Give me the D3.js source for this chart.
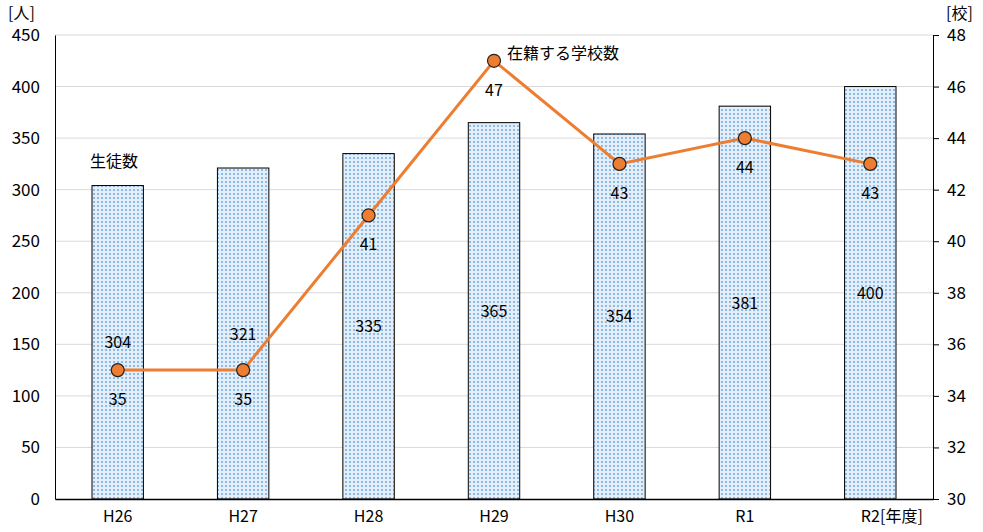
<!DOCTYPE html>
<html>
<head>
<meta charset="utf-8">
<script src="https://cdn.jsdelivr.net/npm/d3@7"></script>
<style>
body { margin: 0; background: #fff; }
text { font-family: "Noto Sans CJK JP", "Noto Sans", sans-serif; fill: #000; }
</style>
</head>
<body>
<svg width="983" height="532"></svg>
<script>
// data
var years = ['H26', 'H27', 'H28', 'H29', 'H30', 'R1', 'R2'];
var students = [304, 321, 335, 365, 354, 381, 400];
var schools = [35, 35, 41, 47, 43, 44, 43];
var leftTicks = [0, 50, 100, 150, 200, 250, 300, 350, 400, 450];
var rightTicks = [30, 32, 34, 36, 38, 40, 42, 44, 46, 48];

var svg = d3.select('svg');
var plotLeft = 55, plotRight = 933, plotTop = 35, plotBottom = 499;

// dotted fill for the bars
var defs = svg.append('defs');
var pat = defs.append('pattern')
  .attr('id', 'dots')
  .attr('patternUnits', 'userSpaceOnUse')
  .attr('width', 4).attr('height', 4);
pat.append('rect').attr('width', 4).attr('height', 4).attr('fill', '#e4eef9');
pat.append('rect').attr('x', 1).attr('y', 1).attr('width', 2).attr('height', 2).attr('fill', '#8dbbe8');

var x = d3.scaleBand().domain(years).range([plotLeft, plotRight]).paddingInner(0.59).paddingOuter(0.295);
var yL = d3.scaleLinear().domain([0, 450]).range([plotBottom, plotTop]);
var yR = d3.scaleLinear().domain([30, 48]).range([plotBottom, plotTop]);

// grid
svg.append('g')
  .selectAll('line')
  .data(leftTicks.slice(1))
  .enter().append('line')
  .attr('x1', plotLeft).attr('x2', plotRight)
  .attr('y1', function(d) { return yL(d); })
  .attr('y2', function(d) { return yL(d); })
  .attr('stroke', '#d9d9d9').attr('stroke-width', 1);

// bars
svg.append('g')
  .selectAll('rect')
  .data(students)
  .enter().append('rect')
  .attr('x', function(d, i) { return x(years[i]); })
  .attr('y', function(d) { return yL(d); })
  .attr('width', x.bandwidth())
  .attr('height', function(d) { return plotBottom - yL(d); })
  .attr('fill', 'url(#dots)')
  .attr('stroke', '#000').attr('stroke-width', 1);

svg.append('g')
  .selectAll('text')
  .data(students)
  .enter().append('text')
  .attr('x', function(d, i) { return x(years[i]) + x.bandwidth() / 2; })
  .attr('y', function(d) { return (yL(d) + plotBottom) / 2 + 6; })
  .attr('text-anchor', 'middle')
  .attr('font-size', 16)
  .text(function(d) { return d; });

// left axis
var axL = svg.append('g')
  .attr('transform', 'translate(' + plotLeft + ',0)')
  .call(d3.axisLeft(yL).tickValues(leftTicks).tickSize(0).tickPadding(15));
axL.select('.domain').attr('stroke', '#000');
axL.selectAll('text').attr('font-size', 17).attr('font-family', '"Noto Sans CJK JP", sans-serif');

// right axis
var axR = svg.append('g')
  .attr('transform', 'translate(' + plotRight + ',0)')
  .call(d3.axisRight(yR).tickValues(rightTicks).tickSize(6).tickSizeOuter(0).tickPadding(8));
axR.select('.domain').attr('stroke', '#000');
axR.selectAll('line').attr('stroke', '#000');
axR.selectAll('text').attr('font-size', 17).attr('font-family', '"Noto Sans CJK JP", sans-serif');

// bottom axis
var axB = svg.append('g')
  .attr('transform', 'translate(0,' + plotBottom + ')')
  .call(d3.axisBottom(x).tickSize(0).tickPadding(12));
axB.select('.domain').attr('stroke', '#000').attr('stroke-width', 1.5);
axB.selectAll('text').attr('font-size', 16).attr('font-family', '"Noto Sans CJK JP", sans-serif');

// school line
var cx = function(d, i) { return x(years[i]) + x.bandwidth() / 2; };
svg.append('path')
  .datum(schools)
  .attr('fill', 'none')
  .attr('stroke', '#ed7d31')
  .attr('stroke-width', 3)
  .attr('d', d3.line().x(cx).y(function(d) { return yR(d); }));

svg.append('g')
  .selectAll('circle')
  .data(schools)
  .enter().append('circle')
  .attr('cx', cx)
  .attr('cy', function(d) { return yR(d); })
  .attr('r', 6.5)
  .attr('fill', '#ed7d31')
  .attr('stroke', '#222').attr('stroke-width', 1.2);

svg.append('g')
  .selectAll('text')
  .data(schools)
  .enter().append('text')
  .attr('x', cx)
  .attr('y', function(d) { return yR(d) + 35; })
  .attr('text-anchor', 'middle')
  .attr('font-size', 16)
  .text(function(d) { return d; });

// labels
svg.append('text').attr('x', 90).attr('y', 167).attr('font-size', 16).text('生徒数');
svg.append('text').attr('x', 507).attr('y', 59).attr('font-size', 16).text('在籍する学校数');
svg.append('text').attr('x', 8).attr('y', 19).attr('font-size', 16).text('[人]');
svg.append('text').attr('x', 946).attr('y', 19).attr('font-size', 16).text('[校]');
svg.append('text').attr('x', 880).attr('y', 522).attr('font-size', 16).text('[年度]');
</script>
</body>
</html>
